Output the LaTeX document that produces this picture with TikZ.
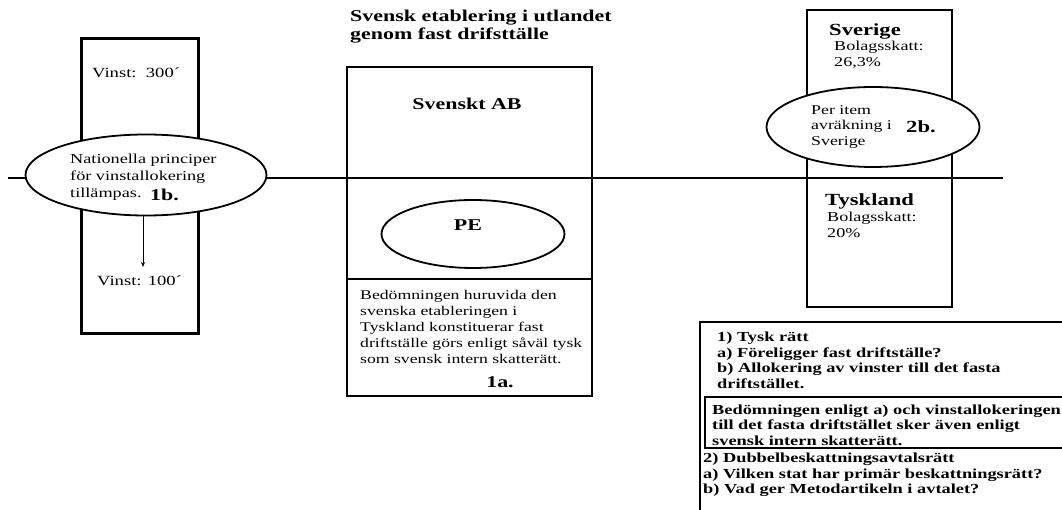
\documentclass[tikz,border=0pt]{standalone}
\usepackage{fontspec}
\setmainfont{Liberation Serif}[FakeStretch=1.33]
\usetikzlibrary{shapes.geometric,arrows.meta}

\begin{document}
\begin{tikzpicture}[
    x=1pt, y=-1pt,
    box/.style={draw, line width=2.2pt, inner sep=0},
    oval/.style={ellipse, draw, line width=1.8pt, fill=white, inner sep=0},
    txt/.style={align=left, inner sep=0, font=\fontsize{13.6}{16.5}\selectfont},
    btxt/.style={align=left, inner sep=0, font=\bfseries\fontsize{13.8}{15.5}\selectfont},
    head/.style={align=left, inner sep=0, font=\bfseries\fontsize{16.5}{18}\selectfont},
    flow/.style={-{Stealth[length=5pt,width=4pt]}, line width=0.8pt}
]
\useasboundingbox (0,0) rectangle (1062,510);

% Horizontal divider
\coordinate (lineL) at (8,178);
\coordinate (lineR) at (1003,178);
\draw[line width=1.8pt] (lineL) -- (lineR);

% Left column
\node[box, minimum width=117pt, minimum height=295pt] (leftbox) at (140,186) {};
\node[txt, anchor=west, font=\fontsize{14}{16.5}\selectfont] (vinstA) at (92,73) {Vinst:\ \ 300´};
\node[oval, minimum width=241pt, minimum height=81pt] (natoval) at (146,175) {};
\node[txt, anchor=west, font=\fontsize{13.7}{17}\selectfont] (nattext) at (70,177) {Nationella principer\\för vinstallokering\\tillämpas.};
\node[head, anchor=west] (lbl1b) at (150,195) {1b.};
\node[txt, anchor=west, font=\fontsize{14}{16.5}\selectfont] (vinstB) at (97,281) {Vinst: 100´};
\coordinate (arrowEnd) at (143,267);
\draw[flow] (natoval.south -| arrowEnd) -- (arrowEnd);

% Middle column
\node[head, anchor=west] (title) at (350,27) {Svensk etablering i utlandet\\genom fast drifsttälle};
\node[box, minimum width=245pt, minimum height=329pt] (abbox) at (469.5,231.5) {};
\coordinate (divL) at (347,279);
\coordinate (divR) at (592,279);
\draw[line width=2.2pt] (divL) -- (divR);
\node[head] (ab) at (467,104) {Svenskt AB};
\node[oval, minimum width=183pt, minimum height=68pt] (pe) at (473,234) {};
\node[head] (petext) at (468,225) {PE};
\node[txt, anchor=west, font=\fontsize{13.3}{15.8}\selectfont] (bedom) at (360,327) {Bedömningen huruvida den\\svenska etableringen i\\Tyskland konstituerar fast\\driftställe görs enligt såväl tysk\\som svensk intern skatterätt.};
\node[head] (lbl1a) at (500,382) {1a.};

% Right column
\node[box, minimum width=145pt, minimum height=297pt] (rightbox) at (879.5,158.5) {};
\node[head, anchor=west, font=\bfseries\fontsize{17}{18}\selectfont] (sverige) at (829,31) {Sverige};
\node[txt, anchor=west] (skattSE) at (834,55) {Bolagsskatt:\\26,3\%};
\node[oval, minimum width=213pt, minimum height=80pt] (itemoval) at (873,127) {};
\node[txt, anchor=west, font=\fontsize{13.4}{15.8}\selectfont] (itemtext) at (811,127) {Per item\\avräkning i\\Sverige};
\node[head, anchor=west, font=\bfseries\fontsize{17}{18}\selectfont] (lbl2b) at (906,127) {2b.};
\node[head, anchor=west, font=\bfseries\fontsize{17}{18}\selectfont] (tyskland) at (825,201) {Tyskland};
\node[txt, anchor=west] (skattDE) at (827,225) {Bolagsskatt:\\20\%};

% Legal questions
\coordinate (frameTR) at (1062,322);
\coordinate (frameBL) at (700,510);
\draw[line width=1.8pt] (frameTR) -| (frameBL);
\node[btxt, anchor=west] (tysk) at (717,360.5) {1) Tysk rätt\\a) Föreligger fast driftställe?\\b) Allokering av vinster till det fasta\\driftstället.};
\coordinate (innerTR) at (1062,397);
\coordinate (innerBR) at (1062,448);
\draw[line width=2.4pt] (innerTR) -- (705,397) -- (705,448) -- (innerBR);
\node[btxt, anchor=west] (intern) at (712,425) {Bedömningen enligt a) och vinstallokeringen\\till det fasta driftstället sker även enligt\\svensk intern skatterätt.};
\node[btxt, anchor=west] (dba) at (703,475) {2) Dubbelbeskattningsavtalsrätt\\a) Vilken stat har primär beskattningsrätt?\\b) Vad ger Metodartikeln i avtalet?};

\end{tikzpicture}
\end{document}
